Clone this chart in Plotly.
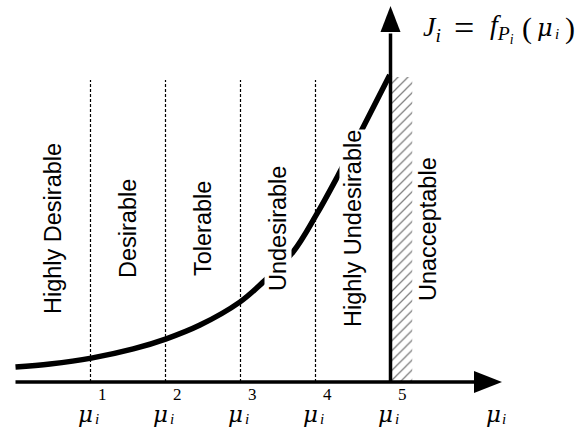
import plotly.graph_objects as go

# ---------------- data ----------------
mu_ticks = [1, 2, 3, 4, 5]
tick_sup = ["1", "2", "3", "4", "5"]
region_labels = ["Highly Desirable", "Desirable", "Tolerable",
                 "Undesirable", "Highly Undesirable", "Unacceptable"]
region_mu = [0.5, 1.5, 2.5, 3.5, 4.5, 5.5]
region_J = [5.0, 5.0, 5.0, 5.0, 5.0, 5.0]
curve_mu = [0.0, 0.46, 1.01, 1.57, 2.01, 2.46, 2.99, 3.29, 3.70, 4.01, 4.29, 4.63, 4.99]
curve_J = [0.49, 0.59, 0.78, 1.08, 1.41, 1.86, 2.61, 3.24, 4.25, 5.46, 6.70, 8.30, 10.03]
boundary_top_J = 9.87
hatch_mu = [5.0, 5.29]
hatch_top_J = 9.97

# ---------------- geometry (pixel mapping) ----------------
W, H = 584, 430
X0_PX, X_UNIT = 15.5, 75.0
Y0_PX, Y_UNIT = 382.0, 30.6


def kx(px):
    return (px - X0_PX) / X_UNIT


def jy(py):
    return (Y0_PX - py) / Y_UNIT


fig = go.Figure()

# hatched unacceptable region
fig.add_trace(go.Scatter(
    x=[hatch_mu[0], hatch_mu[1], hatch_mu[1], hatch_mu[0], hatch_mu[0]],
    y=[0, 0, hatch_top_J, hatch_top_J, 0],
    fill="toself", mode="none", fillcolor="rgba(0,0,0,0)",
    fillpattern=dict(shape="/", fgcolor="#000000", bgcolor="white",
                     size=7, solidity=0.18),
    hoverinfo="skip"))

# preference curve
fig.add_trace(go.Scatter(
    x=curve_mu, y=curve_J, mode="lines",
    line=dict(color="black", width=5.5, shape="spline", smoothing=1.0),
    hoverinfo="skip"))

shapes = []
# dashed boundaries
for k in mu_ticks[:-1]:
    shapes.append(dict(type="line", x0=k, x1=k, y0=0, y1=boundary_top_J,
                       xref="x", yref="y",
                       line=dict(color="black", width=1.2, dash="3px,2px")))
# axes
x_tip, x_base, x_half = kx(502), kx(474), 11 / Y_UNIT
y_tip, y_base, y_half = jy(6), jy(32), 10 / X_UNIT
ax_x = mu_ticks[-1]
shapes.append(dict(type="line", x0=0, x1=x_base + 0.02, y0=0, y1=0,
                   xref="x", yref="y", line=dict(color="black", width=3.5)))
shapes.append(dict(type="line", x0=ax_x, x1=ax_x, y0=0, y1=y_base - 0.05,
                   xref="x", yref="y", line=dict(color="black", width=3.5)))
shapes.append(dict(type="path", xref="x", yref="y",
                   path=f"M {x_tip},0 L {x_base},{x_half} L {x_base},{-x_half} Z",
                   fillcolor="black", line=dict(width=0)))
shapes.append(dict(type="path", xref="x", yref="y",
                   path=f"M {ax_x},{y_tip} L {ax_x - y_half},{y_base} L {ax_x + y_half},{y_base} Z",
                   fillcolor="black", line=dict(width=0)))

annotations = []
sans = dict(family="Liberation Sans, Arial, sans-serif", size=23.5, color="black")
serif = "Liberation Serif, Times New Roman, serif"
mu_font = "DejaVu Serif, serif"
for lab, xm, yj in zip(region_labels, region_mu, region_J):
    annotations.append(dict(x=xm, y=yj, xref="x", yref="y", text=lab,
                            showarrow=False, textangle=-90, font=sans,
                            bgcolor="white" if lab != "Unacceptable" else None,
                            borderpad=0))


def mu_label(xk, sup=None):
    annotations.append(dict(x=xk, y=jy(414), xref="x", yref="y", xshift=-5,
                            text="<i>μ</i>", showarrow=False,
                            font=dict(family=mu_font, size=23, color="black")))
    annotations.append(dict(x=xk, y=jy(419), xref="x", yref="y", xshift=6,
                            text="<i>i</i>", showarrow=False,
                            font=dict(family=serif, size=15, color="black")))
    if sup is not None:
        annotations.append(dict(x=xk, y=jy(394), xref="x", yref="y", xshift=12,
                                text=sup, showarrow=False,
                                font=dict(family=serif, size=17, color="black")))


for k, s in zip(mu_ticks, tick_sup):
    mu_label(k, s)
mu_label(kx(498))

# J_i = f_{P_i}(mu_i)
title_y = 1 - 28 / H
for txt, px, sz, fam in [
    ("<i>J</i><sub><i>i</i></sub>", 421, 28, serif),
    ("=", 452, 36, serif),
    ("<i>f</i><sub><i>P</i><sub><i>i</i></sub></sub>", 488, 28, serif),
    ("(", 520, 30, serif),
    ("<i>μ</i>", 535, 24, mu_font),
    ("<i>i</i>", 553, 15, serif),
    (")", 563, 30, serif),
]:
    yy = title_y if txt != "<i>i</i>" else 1 - 34 / H
    annotations.append(dict(x=px / W, y=yy, xref="paper", yref="paper",
                            xanchor="left", yanchor="middle", showarrow=False,
                            text=txt, font=dict(family=fam, size=sz, color="black")))

fig.update_layout(
    width=W, height=H, margin=dict(l=0, r=0, t=0, b=0),
    paper_bgcolor="white", plot_bgcolor="white", showlegend=False,
    xaxis=dict(visible=False, range=[kx(0), kx(W)], fixedrange=True),
    yaxis=dict(visible=False, range=[jy(H), jy(0)], fixedrange=True),
    shapes=shapes, annotations=annotations)

fig.write_html("out.html", config={"displayModeBar": False, "staticPlot": True},
               post_script="document.body.style.margin='0';document.body.style.overflow='hidden';")
